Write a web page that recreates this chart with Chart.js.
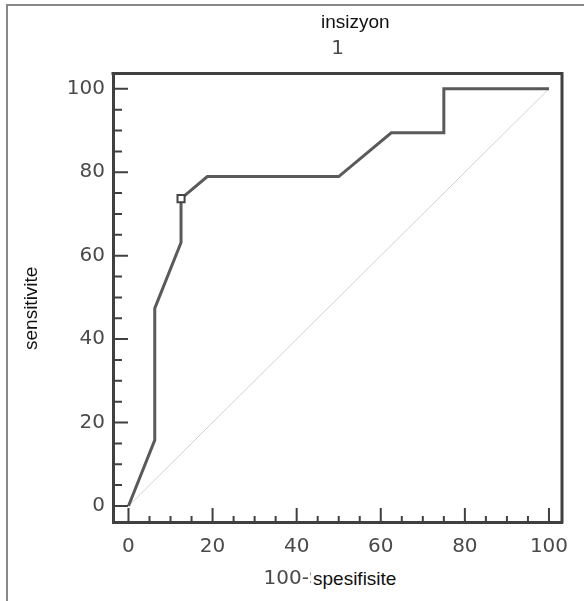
<!DOCTYPE html>
<html>
<head>
<meta charset="utf-8">
<script src="https://cdn.jsdelivr.net/npm/chart.js@4.4.1/dist/chart.umd.min.js"></script>
<style>
  body { margin: 0; background: #fff; }
  #wrap { position: relative; width: 584px; height: 601px; overflow: hidden; }
  #frame { position: absolute; left: 6px; top: 4px; width: 600px; height: 620px;
           border-top: 2px solid #888; border-left: 2px solid #888; pointer-events: none; }
  .lbl { position: absolute; font-family: "Liberation Sans", Arial, sans-serif; font-size: 19px;
         line-height: 19px; color: #111; background: #fff; white-space: nowrap; }
  #lblTitle { left: 321px; top: 12px; }
  #lblX { left: 311px; top: 568px; width: 108px; height: 33px; padding: 1px 0 0 2px; box-sizing: border-box; }
  #lblY { left: 21px; top: 352px; transform-origin: left top; transform: rotate(-90deg); padding: 0 2px; }
</style>
</head>
<body>
<div id="wrap">
  <canvas id="rocChart" width="584" height="601"></canvas>
  <div id="frame"></div>
  <div class="lbl" id="lblTitle">insizyon</div>
  <div class="lbl" id="lblX">spesifisite</div>
  <div class="lbl" id="lblY">sensitivite</div>
</div>
<script>
// ROC egrisi: 100-spesifisite (x) ve sensitivite (y)
const fprValues = [0, 6.25, 6.25, 12.5, 12.5, 18.75, 50, 62.5, 75, 75, 100];
const tprValues = [0, 15.79, 47.37, 63.16, 73.68, 78.95, 78.95, 89.47, 89.47, 100, 100];
const cutoffX = [12.5];
const cutoffY = [73.68];
const diagX = [0, 100];
const diagY = [0, 100];
const tickValues = [0, 20, 40, 60, 80, 100];
const minorTicks = [5, 10, 15, 25, 30, 35, 45, 50, 55, 65, 70, 75, 85, 90, 95];

const grayFont = { family: 'DejaVu Sans', size: 20, weight: 'normal' };
const grayColor = '#4a4a4a';
const axisColor = '#404040';

const toPoints = (xs, ys) => xs.map((x, i) => ({ x: x, y: ys[i] }));

// kutu ve iceri bakan tick cizgileri
const boxPlugin = {
  id: 'boxPlugin',
  afterDraw(chart) {
    const { ctx, chartArea: a, scales } = chart;
    ctx.save();
    ctx.strokeStyle = axisColor;
    ctx.lineWidth = 3;
    ctx.beginPath();
    ctx.moveTo(a.left - 1.5, a.top);
    ctx.lineTo(a.right, a.top);
    ctx.lineTo(a.right, a.bottom + 1.5);
    ctx.stroke();

    ctx.lineWidth = 2;
    ctx.beginPath();
    tickValues.forEach(v => {
      const px = scales.x.getPixelForValue(v);
      ctx.moveTo(px, a.bottom);
      ctx.lineTo(px, a.bottom - 14);
      const py = scales.y.getPixelForValue(v);
      ctx.moveTo(a.left, py);
      ctx.lineTo(a.left + 15, py);
    });
    minorTicks.forEach(v => {
      const px = scales.x.getPixelForValue(v);
      ctx.moveTo(px, a.bottom);
      ctx.lineTo(px, a.bottom - 6);
      const py = scales.y.getPixelForValue(v);
      ctx.moveTo(a.left, py);
      ctx.lineTo(a.left + 9, py);
    });
    ctx.stroke();
    ctx.restore();
  }
};

const ctx = document.getElementById('rocChart').getContext('2d');
new Chart(ctx, {
  type: 'line',
  data: {
    datasets: [
      {
        data: toPoints(cutoffX, cutoffY),
        showLine: false,
        pointStyle: 'rect',
        pointRadius: 5,
        pointBackgroundColor: '#fff',
        pointBorderColor: '#444',
        pointBorderWidth: 2
      },
      {
        data: toPoints(fprValues, tprValues),
        borderColor: '#5a5a5a',
        borderWidth: 3,
        pointRadius: 0,
        tension: 0
      },
      {
        data: toPoints(diagX, diagY),
        borderColor: '#d2d2d2',
        borderWidth: 1,
        pointRadius: 0,
        tension: 0
      }
    ]
  },
  options: {
    responsive: false,
    animation: false,
    layout: { padding: { left: 0, right: 22, top: 0, bottom: 0 } },
    plugins: {
      legend: { display: false },
      tooltip: { enabled: false },
      title: {
        display: true,
        text: '1',
        fullSize: false,
        color: grayColor,
        font: grayFont,
        padding: { top: 36.5, bottom: 13 }
      }
    },
    scales: {
      x: {
        type: 'linear',
        min: -3.68,
        max: 103.1,
        afterFit(scale) { scale.height = 79; },
        afterBuildTicks(scale) { scale.ticks = tickValues.map(v => ({ value: v })); },
        grid: { display: false, drawTicks: false },
        border: { display: true, width: 3, color: axisColor },
        ticks: { color: grayColor, font: grayFont, padding: 13, maxRotation: 0 },
        title: {
          display: true,
          text: '100-Spesifisite',
          color: grayColor,
          font: grayFont,
          padding: { top: 0, bottom: 10.5 }
        }
      },
      y: {
        type: 'linear',
        min: -3.84,
        max: 103.67,
        afterFit(scale) { scale.width = 113; },
        afterBuildTicks(scale) { scale.ticks = tickValues.map(v => ({ value: v })); },
        grid: { display: false, drawTicks: false },
        border: { display: true, width: 3, color: axisColor },
        ticks: { color: grayColor, font: grayFont, padding: 8 }
      }
    }
  },
  plugins: [boxPlugin]
});
</script>
</body>
</html>
